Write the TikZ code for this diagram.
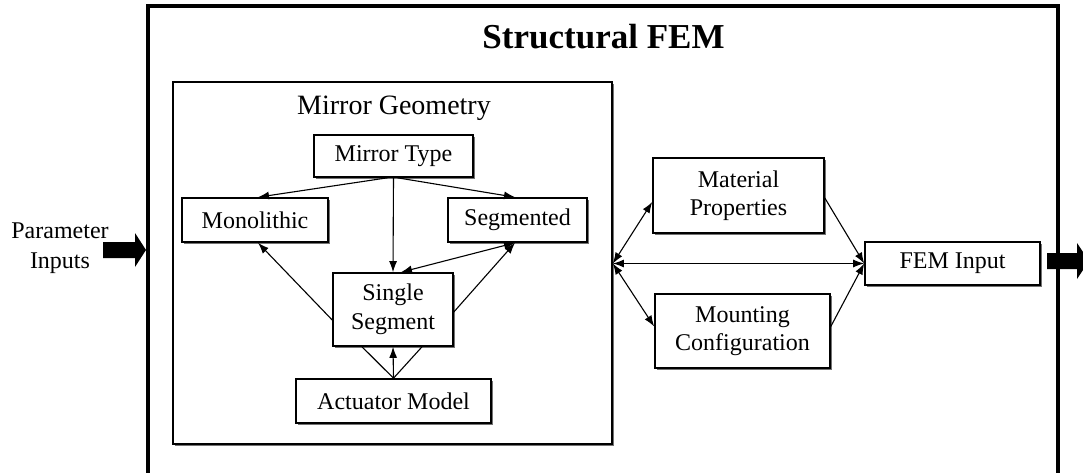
\documentclass[tikz,border=0pt]{standalone}
\usepackage{fontspec}
\setmainfont{Liberation Serif}
\usetikzlibrary{arrows.meta,shadows,calc}

\newcommand{\bodyfont}{\fontsize{24}{28.5}\selectfont}
\newcommand{\headfont}{\fontsize{28}{32}\selectfont}
\newcommand{\titlefont}{\fontsize{35}{40}\selectfont\bfseries}

\tikzset{
  shade box/.style={drop shadow={shadow xshift=1.8pt, shadow yshift=-1.8pt,
      fill=black!55, opacity=1}},
  blk/.style={draw, line width=1.6pt, fill=white, inner sep=0pt,
      align=center, font=\bodyfont, shade box},
  frame/.style={draw, line width=1.8pt, fill=white, inner sep=0pt, shade box},
  outerframe/.style={draw, line width=4.5pt, inner sep=0pt},
  conn/.style={line width=1.1pt, -{Latex[length=11pt,width=8pt]}},
  biconn/.style={line width=1.1pt, {Latex[length=11pt,width=8pt]}-{Latex[length=11pt,width=8pt]}},
  plain/.style={line width=1.1pt},
  blockarrow/.style={fill=black, draw=none},
}

\begin{document}
\begin{tikzpicture}[x=1pt,y=-1pt]
\useasboundingbox (0,0) rectangle (1083,473);

% outer frame and title
\node[outerframe, minimum width=910pt, minimum height=469pt] (outer) at (603,240.75) {};
\node[font=\titlefont, anchor=base] (title) at (603.5,49) {Structural FEM};

% mirror geometry group
\node[frame, minimum width=439pt, minimum height=362pt] (geo) at (392.5,263) {};
\node[font=\headfont, anchor=base] (geolabel) at (394,115) {Mirror Geometry};

\node[blk, minimum width=159pt, minimum height=42pt] (mt)   at (393.5,156) {Mirror Type};
\node[blk, minimum width=146pt, minimum height=44pt] (mono) at (255,220)   {Monolithic};
\node[blk, minimum width=139pt, minimum height=44pt] (seg)  at (517.5,220) {Segmented};
\node[blk, minimum width=120pt, minimum height=73pt] (ss)   at (393,309.5) {Single\\Segment};
\node[blk, minimum width=195pt, minimum height=44pt] (act)  at (393.5,401) {Actuator Model};

% right-hand blocks
\node[blk, minimum width=171pt, minimum height=75pt] (mat)   at (738.5,195.5) {Material\\Properties};
\node[blk, minimum width=175pt, minimum height=74pt] (mount) at (742.5,331) {Mounting\\Configuration};
\node[blk, minimum width=175pt, minimum height=43pt] (femin) at (952.5,263.5) {FEM Input};

% input label
\node[font=\fontsize{24}{30}\selectfont, align=center] (params) at (60,248) {Parameter\\Inputs};

% connectors inside the mirror geometry group
\draw[conn] ([xshift=-6pt]mt.south) -- ([xshift=3pt]mono.north);
\draw[conn] (mt.south) -- (ss.north);
\draw[conn] ([xshift=4pt]mt.south) -- ([xshift=-2.5pt]seg.north);
\draw[biconn] ([xshift=8pt]ss.north) -- ([xshift=-2.5pt]seg.south);
\draw[conn] ([yshift=-2.5pt]ss.east) -- ([xshift=-2.5pt]seg.south);
\draw[conn] ([yshift=-10.5pt]ss.west) -- ([xshift=3pt]mono.south);
\draw[conn] (act.north) -- (ss.south);
\draw[plain] (act.north) -- ([xshift=-31pt]ss.south);
\draw[plain] (act.north) -- ([xshift=29pt]ss.south);

% connectors on the right
\coordinate (J) at (geo.east |- femin.west);
\draw[biconn] (J) -- ([yshift=-6.5pt]mat.west);
\draw[biconn] (J) -- ([yshift=4.5pt]mount.west);
\draw[biconn] (J) -- (femin.west);
\draw[conn] ([yshift=-2.5pt]mat.east) -- (femin.west);
\draw[conn] ([yshift=4.5pt]mount.east) -- (femin.west);

% block arrows for input and output
\fill[blockarrow] (103,242) -- (135,242) -- (135,233) -- (146,250)
  -- (135,267) -- (135,258) -- (103,258) -- cycle;
\fill[blockarrow] (1047,253) -- (1077,253) -- (1077,243) -- (1089,261)
  -- (1077,279) -- (1077,269) -- (1047,269) -- cycle;
\end{tikzpicture}
\end{document}
